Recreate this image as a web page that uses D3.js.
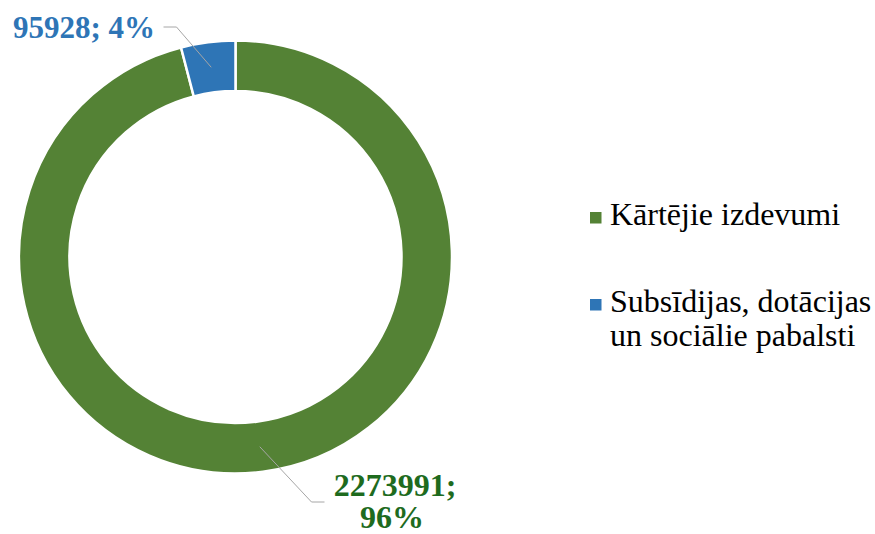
<!DOCTYPE html>
<html>
<head>
<meta charset="utf-8">
<script src="https://cdn.jsdelivr.net/npm/d3@7"></script>
<style>
  body { margin: 0; background: #fff; }
</style>
</head>
<body>
<svg id="chart" width="875" height="534"></svg>
<script>
const categories = ["Kārtējie izdevumi", "Subsīdijas, dotācijas un sociālie pabalsti"];
const values = [2273991, 95928];
const percents = ["96%", "4%"];
const legendLines = [["Kārtējie izdevumi"], ["Subsīdijas, dotācijas", "un sociālie pabalsti"]];

const colors = ["#548235", "#2E75B6"];
const labelColors = ["#1E6B1E", "#2E75B6"];

const cx = 235.5, cy = 257,
      outerR = 216.5, innerR = 166;

const serif = '"Liberation Serif"';

const svg = d3.select("#chart");
const g = svg.append("g").attr("transform", `translate(${cx},${cy})`);

const pie = d3.pie().sort(null).value(d => d);
const arcs = pie(values);
const arc = d3.arc().innerRadius(innerR).outerRadius(outerR);

g.selectAll("path.slice")
  .data(arcs)
  .enter()
  .append("path")
  .attr("class", "slice")
  .attr("d", arc)
  .attr("fill", (d, i) => colors[i])
  .attr("stroke", "#fff")
  .attr("stroke-width", 2.5);

// leader lines: centroid -> bend -> horizontal end (relative to centre)
const leaders = [
  { bend: [76, 245], end: [89, 245] },   // green, bottom
  { bend: [-59, -230], end: [-72, -230] } // blue, top
];

arcs.forEach((d, i) => {
  const c = arc.centroid(d);
  const l = leaders[i];
  g.append("path")
    .attr("d", d3.line()([c, l.bend, l.end]))
    .attr("fill", "none")
    .attr("stroke", "#A6A6A6")
    .attr("stroke-width", 1);
});

// data labels
svg.append("text")
  .attr("x", 155).attr("y", 38)
  .attr("text-anchor", "end")
  .attr("fill", labelColors[1])
  .attr("font-family", serif)
  .attr("font-size", 31).attr("font-weight", "bold")
  .text(`${values[1]}; ${percents[1]}`);

const gl = svg.append("text")
  .attr("y", 496)
  .attr("text-anchor", "middle")
  .attr("fill", labelColors[0])
  .attr("font-family", serif)
  .attr("font-size", 32).attr("font-weight", "bold");
gl.append("tspan").attr("x", 395).text(`${values[0]};`);
gl.append("tspan").attr("x", 392).attr("dy", 32).text(percents[0]);

// legend
const legendY = [225, 312];
categories.forEach((c, i) => {
  svg.append("rect")
    .attr("x", 590).attr("y", legendY[i] - 13)
    .attr("width", 11.5).attr("height", 11.5)
    .attr("fill", colors[i]);
  const t = svg.append("text")
    .attr("x", 610).attr("y", legendY[i])
    .attr("fill", "#000")
    .attr("font-family", serif)
    .attr("font-size", 32);
  legendLines[i].forEach((line, j) => {
    t.append("tspan").attr("x", 610).attr("dy", j === 0 ? 0 : 33.5).text(line);
  });
});
</script>
</body>
</html>
